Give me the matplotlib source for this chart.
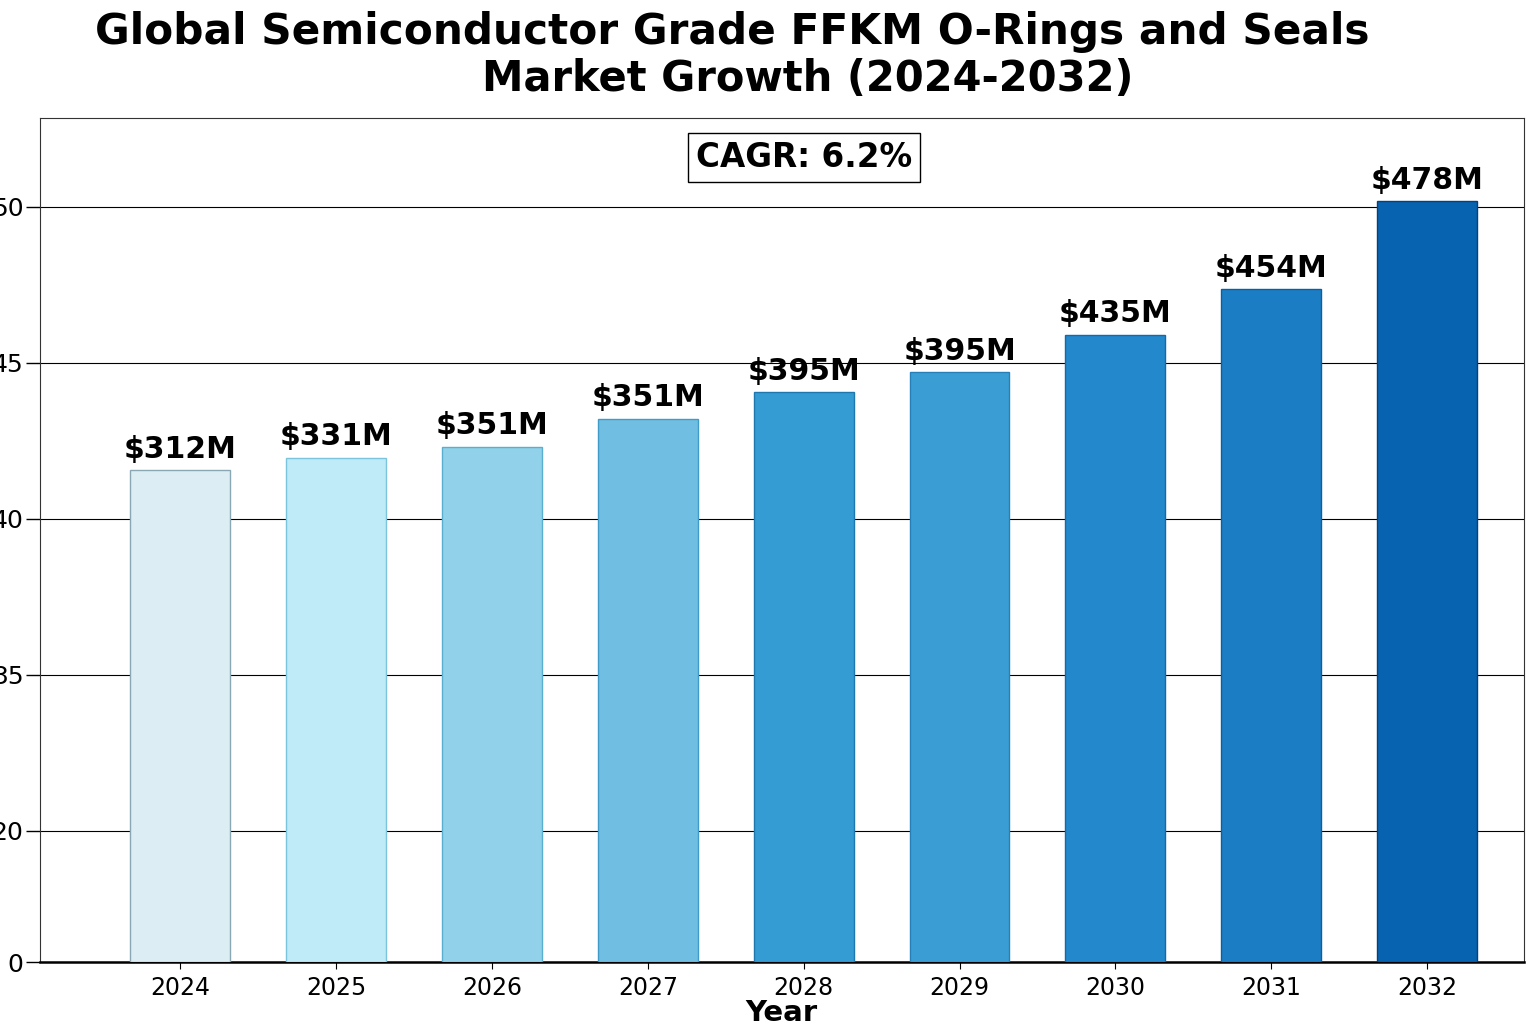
import numpy as np
import matplotlib.pyplot as plt

years = ['2024', '2025', '2026', '2027', '2028', '2029', '2030', '2031', '2032']
# bar heights (units of the y tick labels)
heights = [41.57, 41.96, 42.31, 43.21, 44.07, 44.71, 45.90, 47.37, 50.19]
value_labels = ['$312M', '$331M', '$351M', '$351M', '$395M', '$395M', '$435M', '$454M', '$478M']
colors = ['#dceef3', '#bfeaf8', '#92d1ea', '#70bee2', '#349bd3', '#3a9ed5', '#2389cc', '#1b7ec5', '#0763b0']
edge_colors = ['#8aa8b4', '#7cc4dc', '#5aaed0', '#3f9cc8', '#1f77b0', '#2580ba', '#1469a8', '#0e5e9e', '#0a3f7a']
ytick_pos = [25.8, 30, 35, 40, 45, 50]
ytick_labels = ['0', '20', '35', '40', '45', '50']
axis_floor = 25.8
cagr_text = 'CAGR: 6.2%'

fig = plt.figure(figsize=(15.36, 10.24), dpi=100)
ax = fig.add_axes([0.026, 0.0605, 0.966, 0.8245])

x = np.arange(len(years))
bar_h = np.array(heights) - axis_floor
ax.bar(x, bar_h, bottom=axis_floor, width=0.64, color=colors,
       edgecolor=edge_colors, linewidth=1.0, zorder=3)

for xi, h, lab in zip(x, heights, value_labels):
    ax.text(xi, h + 0.2, lab, ha='center', va='bottom', fontsize=21.5,
            fontweight='bold', zorder=4)

ax.set_xlim(-0.9, 8.62)
ax.set_ylim(axis_floor, 52.85)
ax.set_xticks(x)
ax.set_xticklabels(years, fontsize=17)
ax.set_yticks(ytick_pos)
ax.set_yticklabels(ytick_labels, fontsize=18)
ax.tick_params(axis='y', length=10, width=1, pad=2)
ax.tick_params(axis='x', length=5, width=0.8, pad=5)
ax.grid(axis='y', color='black', linewidth=0.8, zorder=1)

for side in ['top', 'right', 'left']:
    ax.spines[side].set_linewidth(0.8)
    ax.spines[side].set_color('#333333')
ax.spines['bottom'].set_linewidth(1.8)
ax.spines['bottom'].set_color('black')

ax.set_xlabel('Year', fontsize=21, fontweight='bold', labelpad=-1)

ax.text(0.515, 0.953, cagr_text, transform=ax.transAxes, ha='center', va='center',
        fontsize=23.5, fontweight='bold',
        bbox=dict(boxstyle='square,pad=0.25', facecolor='white', edgecolor='black', linewidth=1))

fig.text(0.477, 0.969, 'Global Semiconductor Grade FFKM O-Rings and Seals',
         ha='center', va='center', fontsize=30.4, fontweight='bold')
fig.text(0.526, 0.923, 'Market Growth (2024-2032)',
         ha='center', va='center', fontsize=30, fontweight='bold')

fig.savefig('out.png', dpi=100)
